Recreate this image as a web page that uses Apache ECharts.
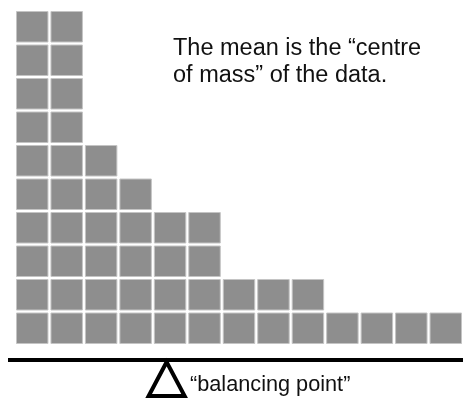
<!DOCTYPE html>
<html>
<head>
<meta charset="utf-8">
<script src="https://cdn.jsdelivr.net/npm/echarts@6/dist/echarts.min.js"></script>
<style>
html, body { margin: 0; padding: 0; background: #fff; }
#main { width: 463px; height: 400px; }
</style>
</head>
<body>
<div id="main"></div>
<script>
// columns of blocks (x position -> number of stacked squares)
var positions = [1, 2, 3, 4, 5, 6, 7, 8, 9, 10, 11, 12, 13];
var counts    = [10, 10, 6, 5, 4, 4, 2, 2, 2, 1, 1, 1, 1];
var balancePoint = 4.9; // where the fulcrum sits under the beam

var chart = echarts.init(document.getElementById('main'));

var blockData = positions.map(function (p, i) { return [p, counts[i]]; });

var option = {
	animation: false,
	backgroundColor: '#fff',
	grid: { left: 15, right: 0, top: 10, bottom: 55 },
	xAxis: { type: 'value', min: 0.5, max: 13.5, show: false },
	yAxis: { type: 'value', min: 0, max: 10, show: false },
	series: [{
		type: 'custom',
		data: blockData,
		renderItem: function (params, api) {
			var x = api.value(0), n = api.value(1);
			var children = [];
			for (var k = 0; k < n; k++) {
				var p0 = api.coord([x - 0.5, k + 1]);
				var p1 = api.coord([x + 0.5, k]);
				children.push({
					type: 'rect',
					shape: { x: p0[0] + 1.5, y: p0[1] + 1.5, width: p1[0] - p0[0] - 3, height: p1[1] - p0[1] - 3 },
					style: { fill: '#8e8e8e', stroke: '#c4c4c4', lineWidth: 1 }
				});
			}
			return { type: 'group', children: children };
		}
	}, {
		type: 'custom',
		data: [[balancePoint, 0]],
		renderItem: function (params, api) {
			var c = api.coord([api.value(0), 0]);
			var top = c[1] + 17;
			return {
				type: 'group',
				children: [{
					type: 'polygon',
					shape: { points: [[c[0], top], [c[0] - 18, top + 34], [c[0] + 18, top + 34]] },
					style: { fill: '#fff', stroke: '#000', lineWidth: 4, lineJoin: 'miter' }
				}]
			};
		}
	}],
	graphic: [
		{ type: 'rect', shape: { x: 8, y: 358, width: 455, height: 4 }, style: { fill: '#000' } },
		{
			type: 'text', left: 173, top: 35,
			style: {
				text: 'The mean is the \u201ccentre\nof mass\u201d of the data.',
				font: '23.5px "Liberation Sans", Arial, sans-serif',
				lineHeight: 27, fill: '#111'
			}
		},
		{
			type: 'text', left: 190, top: 374,
			style: {
				text: '\u201cbalancing point\u201d',
				font: '21.7px "Liberation Sans", Arial, sans-serif',
				fill: '#111'
			}
		}
	]
};

chart.setOption(option);
</script>
</body>
</html>
